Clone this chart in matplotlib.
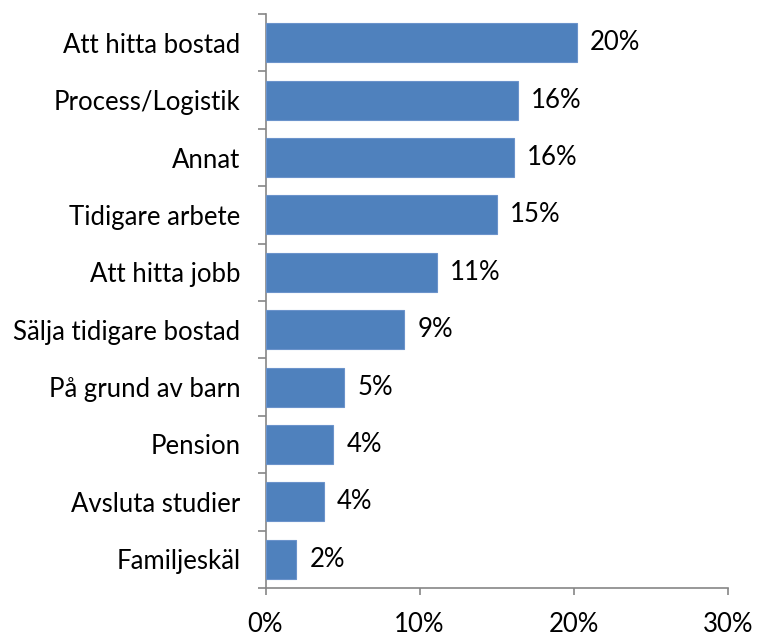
import matplotlib
matplotlib.use("Agg")
import matplotlib.pyplot as plt
import numpy as np
from matplotlib.ticker import FixedLocator, PercentFormatter

categories = ["Att hitta bostad", "Process/Logistik", "Annat", "Tidigare arbete",
              "Att hitta jobb", "Sälja tidigare bostad", "På grund av barn",
              "Pension", "Avsluta studier", "Familjeskäl"]
values = [20.2, 16.4, 16.1, 15.0, 11.1, 9.0, 5.1, 4.4, 3.8, 2.0]
xticks = [0, 10, 20, 30]

plt.rcParams['font.family'] = ['Lato', 'DejaVu Sans']
FS = 18.5

fig = plt.figure(figsize=(7.69, 6.37), dpi=100)
ax = fig.add_axes([265.5/769, 1 - 588/637, (727.7 - 265.5)/769, (588 - 14)/637])

n = len(categories)
y = np.arange(n)[::-1]
ax.barh(y, values, height=0.68, color='#4F81BD', edgecolor='#6B93CB', linewidth=0.8, zorder=3)

for yi, v in zip(y, values):
    ax.text(v + 0.85, yi, f"{round(v):d}%", va='center', ha='left', fontsize=FS, color='black')

ax.set_xlim(0, 30)
ax.set_ylim(-0.5, n - 0.5)
ax.set_xticks(xticks)
ax.xaxis.set_major_formatter(PercentFormatter(decimals=0))
ax.set_yticks(y)
ax.set_yticklabels(categories)
ax.yaxis.set_minor_locator(FixedLocator(np.arange(-0.5, n, 1.0)))

spine_col = '#868686'
for s in ['top', 'right']:
    ax.spines[s].set_visible(False)
for s in ['left', 'bottom']:
    ax.spines[s].set_color(spine_col)
    ax.spines[s].set_linewidth(1.2)

ax.tick_params(axis='y', which='major', length=0, pad=18, labelsize=FS)
ax.tick_params(axis='y', which='minor', length=6, width=1.2, color=spine_col, direction='out')
ax.tick_params(axis='x', which='major', length=5, width=1.2, color=spine_col, direction='out', pad=12, labelsize=FS)

fig.savefig("out.png", dpi=100)
